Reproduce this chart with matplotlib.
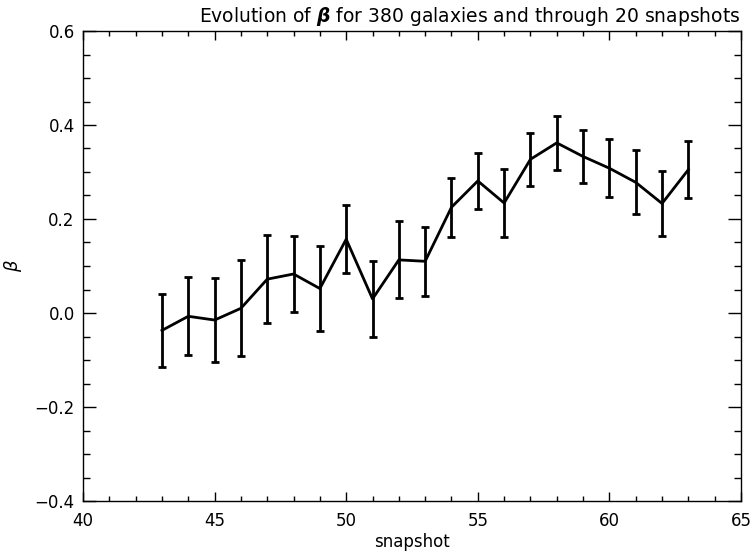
import matplotlib
matplotlib.use("Agg")
import matplotlib.pyplot as plt
from matplotlib.ticker import MultipleLocator

snapshots = [43, 44, 45, 46, 47, 48, 49, 50, 51, 52, 53, 54, 55, 56, 57, 58, 59, 60, 61, 62, 63]
beta = [-0.037, -0.007, -0.015, 0.010, 0.072, 0.083, 0.052, 0.157, 0.030, 0.113, 0.110,
        0.225, 0.281, 0.234, 0.327, 0.362, 0.333, 0.308, 0.278, 0.233, 0.305]
beta_err = [0.078, 0.083, 0.090, 0.102, 0.093, 0.081, 0.091, 0.072, 0.081, 0.082, 0.073,
            0.063, 0.059, 0.072, 0.057, 0.057, 0.057, 0.062, 0.068, 0.070, 0.061]

fig = plt.figure(figsize=(7.56, 5.54), dpi=100)
ax = fig.add_axes([83/756, 1 - 501/554, (741-83)/756, (501-31)/554])

ax.errorbar(snapshots, beta, yerr=beta_err, color="black", lw=2, elinewidth=2,
            capsize=3, capthick=2)

ax.set_xlim(40, 65)
ax.set_ylim(-0.4, 0.6)
ax.xaxis.set_major_locator(MultipleLocator(5))
ax.xaxis.set_minor_locator(MultipleLocator(1))
ax.yaxis.set_major_locator(MultipleLocator(0.2))
ax.yaxis.set_minor_locator(MultipleLocator(0.05))
ax.yaxis.set_major_formatter(plt.FuncFormatter(lambda v, p: f"{v:.1f}".replace("-", "\u2212")))
ax.tick_params(which="both", direction="in", top=True, right=True, labelsize=12, width=1)
ax.tick_params(axis="x", which="major", length=6.5, pad=8)
ax.tick_params(axis="x", which="minor", length=3.6)
ax.tick_params(axis="y", which="major", length=9.4, pad=6)
ax.tick_params(axis="y", which="minor", length=5)
for s in ax.spines.values():
    s.set_linewidth(1.0)

ax.set_xlabel("snapshot", fontsize=12, labelpad=2)
ax.set_ylabel(r"$\beta$", fontsize=13)
ax.yaxis.set_label_coords((24 - 83) / 658, 0.5)
fig.text(470 / 756, 1 - 16 / 554,
         r"Evolution of $\boldsymbol{\beta}$ for 380 galaxies and through 20 snapshots",
         fontsize=13.5, ha="center", va="center")

fig.savefig("out.png", dpi=100)
